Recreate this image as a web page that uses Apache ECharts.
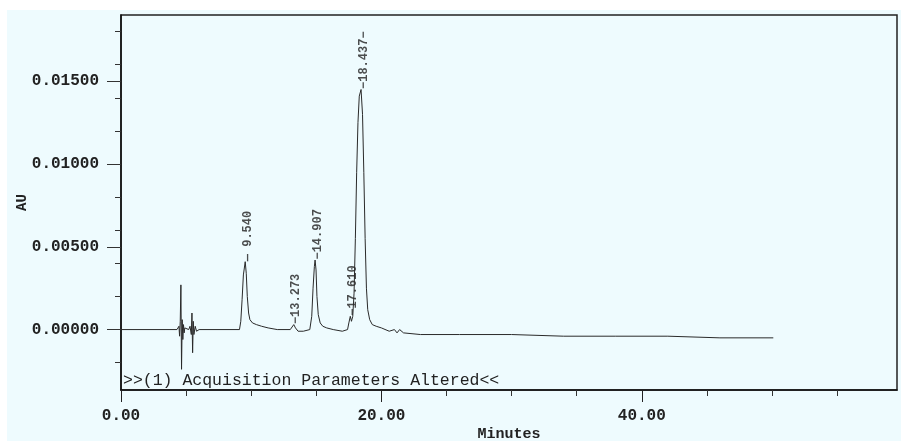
<!DOCTYPE html>
<html><head><meta charset="utf-8">
<script src="https://cdn.jsdelivr.net/npm/echarts@6/dist/echarts.min.js"></script>
<style>
html,body{margin:0;padding:0;background:#ffffff;width:901px;height:441px;overflow:hidden}
#c{position:absolute;left:7px;top:10px;width:894px;height:431px;background:#eefbfe}
</style></head><body><div id="c"></div>
<script>
// Chromatogram trace (minutes, AU)
var times = [0, 4.3, 4.45, 4.5, 4.55, 4.6, 4.65, 4.7, 4.75, 4.8, 4.85, 4.9, 5.0, 5.2, 5.3, 5.4, 5.45, 5.5, 5.55, 5.6, 5.7, 5.8, 6.0,
  9.1, 9.2, 9.3, 9.4, 9.54, 9.62, 9.7, 9.8, 9.9, 10.1, 10.4, 10.8, 11.3, 12.0, 13.0, 13.15, 13.27, 13.4, 13.6, 14.0, 14.5,
  14.65, 14.75, 14.85, 14.907, 14.98, 15.05, 15.15, 15.3, 15.5, 15.8, 16.3, 17.0, 17.4, 17.5, 17.61, 17.7, 17.8, 17.9, 18.0,
  18.1, 18.2, 18.3, 18.437, 18.55, 18.65, 18.75, 18.85, 18.95, 19.1, 19.3, 19.6, 20.0, 20.6, 21.0, 21.2, 21.4, 21.7,
  23, 26, 30, 34, 38, 42, 46, 50.1];
var absorbance = [0, 0, 0.0002, -0.0004, 0.0005, 0.0027, -0.0024, 0.0006, -0.0006, 0.0003, -0.0002, 0.0001, 0, 0, 0.0002, -0.0003, 0.0010, -0.0014, 0.0005, -0.0003, 0.0002, -0.0001, 0,
  0, 0.0005, 0.0018, 0.0033, 0.0041, 0.0034, 0.0020, 0.0010, 0.0006, 0.0004, 0.0003, 0.0002, 0.0001, 0.0, 0.0, 0.0001, 0.0003, 0.0001, -0.0001, -0.0001, 0.0,
  0.0008, 0.0025, 0.0038, 0.0042, 0.0036, 0.0020, 0.0009, 0.0004, 0.0002, 0.0001, 0.0, -0.0001, 0.0, 0.0004, 0.0008, 0.0005, 0.0008, 0.0022, 0.0055,
  0.0095, 0.0125, 0.0141, 0.0145, 0.0130, 0.0095, 0.0055, 0.0025, 0.0012, 0.0006, 0.0003, 0.0002, 0.0001, -0.0001, 0.0, -0.0002, 0.0000, -0.0002,
  -0.0003, -0.0003, -0.0003, -0.0004, -0.0004, -0.0004, -0.0005, -0.0005];

// Peak annotations
var peakTimes = [9.54, 13.273, 14.907, 17.61, 18.437];
var peakHeights = [0.0041, 0.0003, 0.0042, 0.0008, 0.0145];
var peakLabels = ['\u2014 9.540', '\u221213.273', '\u221214.907', '\u221217.610', '\u221218.437\u2212'];

// Axis ticks
var xMajorTicks = [0, 20, 40];
var xMinorTicks = [5, 10, 15, 25, 30, 35, 45, 50, 55];
var yMajorTicks = [0, 0.005, 0.010, 0.015];
var yMinorTicks = [-0.002, 0, 0.002, 0.004, 0.006, 0.008, 0.010, 0.012, 0.014, 0.016, 0.018];
var note = '>>(1) Acquisition Parameters Altered<<';

var trace = times.map(function (t, i) { return [t, absorbance[i]]; });
var peaks = peakTimes.map(function (t, i) { return [t, peakHeights[i]]; });

var FONT = '"Liberation Mono", "DejaVu Sans Mono", monospace';
var XMIN = 0, XMAX = 59.6, YMIN = -0.00365, YMAX = 0.019;

var chart = echarts.init(document.getElementById('c'), null, {renderer: 'canvas'});
chart.setOption({
  animation: false,
  backgroundColor: '#eefbfe',
  grid: {left: 114, right: 4, top: 5, bottom: 51, show: true, borderColor: '#222', borderWidth: 1.5,
    backgroundColor: 'transparent', containLabel: false, outerBoundsMode: 'none'},
  xAxis: [{
    type: 'value', min: XMIN, max: XMAX, position: 'bottom',
    name: 'Minutes', nameLocation: 'middle', nameGap: 37, nameMoveOverlap: false,
    nameTextStyle: {fontFamily: FONT, fontSize: 15, fontWeight: 'bold', color: '#222'},
    axisLine: {show: true, onZero: false, lineStyle: {color: '#111', width: 1.5}},
    axisTick: {show: true, customValues: xMajorTicks, length: 12, lineStyle: {color: '#222'}},
    axisLabel: {show: true, customValues: xMajorTicks, margin: 18, fontFamily: FONT, fontSize: 16, fontWeight: 'bold', color: '#222',
      formatter: function (v) { return v.toFixed(2); }},
    splitLine: {show: false}
  }, {
    type: 'value', min: XMIN, max: XMAX, position: 'bottom', gridIndex: 0,
    axisLine: {show: false, onZero: false},
    axisTick: {show: true, customValues: xMinorTicks, length: 6, lineStyle: {color: '#333'}},
    axisLabel: {show: false},
    splitLine: {show: false}
  }],
  yAxis: [{
    type: 'value', min: YMIN, max: YMAX,
    name: 'AU', nameLocation: 'middle', nameGap: 92, nameRotate: 90, nameMoveOverlap: false,
    nameTextStyle: {fontFamily: FONT, fontSize: 14, fontWeight: 'bold', color: '#222'},
    axisLine: {show: true, onZero: false, lineStyle: {color: '#111', width: 1.5}},
    axisTick: {show: true, customValues: yMajorTicks, length: 14, lineStyle: {color: '#333'}},
    axisLabel: {show: true, customValues: yMajorTicks, margin: 22, fontFamily: FONT, fontSize: 16, fontWeight: 'bold', color: '#222',
      formatter: function (v) { return v.toFixed(5); }},
    splitLine: {show: false}
  }, {
    type: 'value', min: YMIN, max: YMAX, position: 'left',
    axisLine: {show: false, onZero: false},
    axisTick: {show: true, customValues: yMinorTicks, length: 6, lineStyle: {color: '#333'}},
    axisLabel: {show: false},
    splitLine: {show: false}
  }],
  series: [{
    type: 'line', data: trace, symbol: 'none', smooth: false,
    lineStyle: {color: '#2a2a2a', width: 1}
  }, {
    type: 'scatter', data: peaks, symbol: 'rect', symbolSize: 1,
    itemStyle: {color: 'rgba(0,0,0,0)'},
    label: {
      show: true, rotate: 90, position: [3, 0], align: 'left', verticalAlign: 'middle',
      fontFamily: FONT, fontSize: 12, fontWeight: 'bold', color: '#222',
      formatter: function (p) { return peakLabels[p.dataIndex]; }
    }
  }],
  graphic: [{
    type: 'text', left: 116, top: 362, silent: true,
    style: {text: note, font: '16.5px ' + FONT, fill: '#222'}
  }]
});
</script></body></html>
